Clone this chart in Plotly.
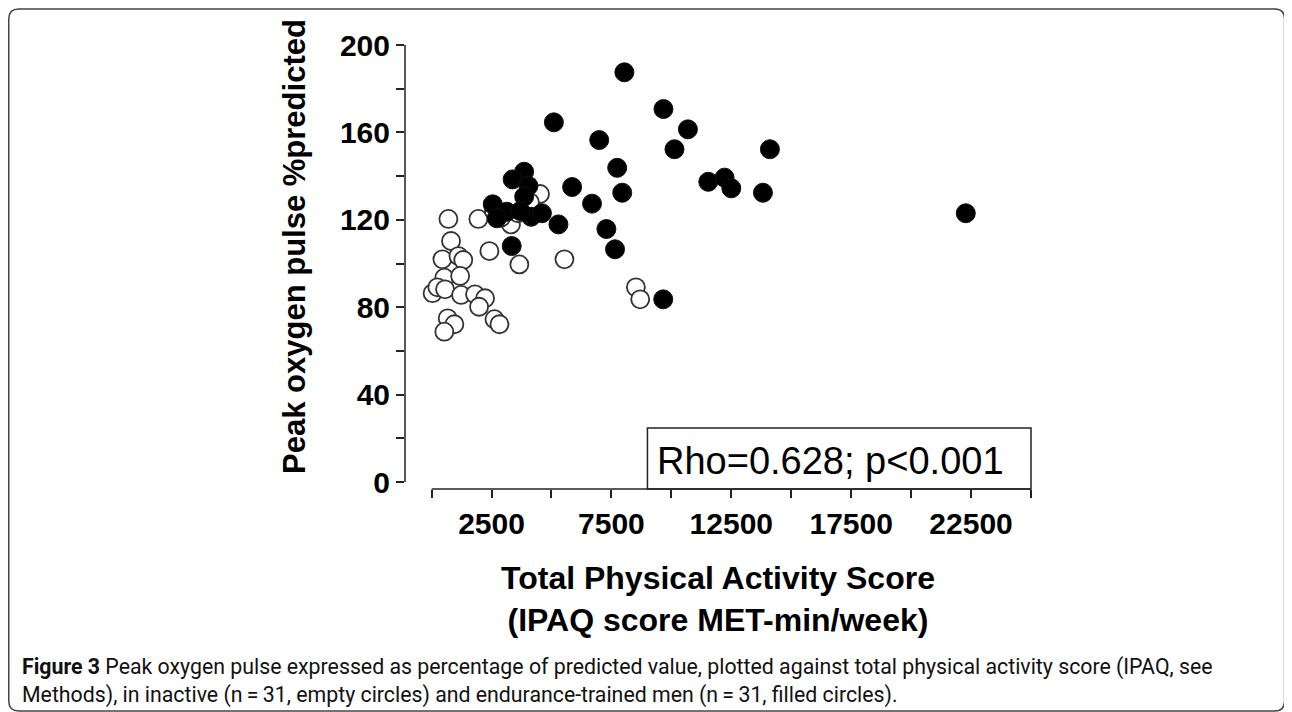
import plotly.graph_objects as go

# ---- data ----
inactive_x = [700, 1950, 4520, 3310, 810, 2410, 5540, 3660, 450, 1120, 1320, 530, 1190,
              40, 240, 560, 1230, 1810, 2230, 1980, 8520, 8700, 670, 950, 530, 2620, 2830,
              2900, 3600, 4100, 2600]
inactive_y = [120.4, 120.4, 131.8, 117.9, 110.3, 105.7, 101.9, 99.6, 101.9, 103.4, 101.6, 93.5, 94.3,
              86.4, 89.1, 88.2, 85.6, 85.9, 84.1, 80.2, 89.1, 83.6, 74.9, 72.2, 68.8, 74.5, 72.2,
              121.0, 123.0, 128.0, 124.0]
trained_x = [8040, 9670, 10690, 10130, 5100, 6990, 7740, 7950, 5860, 6690, 7290, 7650, 5290,
             9660, 11540, 3340, 3860, 3380, 4040, 3860, 2550, 3130, 2720, 4150, 4600, 3700,
             12220, 12500, 14110, 13820, 22280]
trained_y = [187.5, 170.7, 161.4, 152.3, 164.6, 156.5, 143.8, 132.4, 135.0, 127.4, 115.8, 106.5, 117.9,
             83.6, 137.4, 108.0, 142.0, 138.5, 135.5, 130.6, 127.1, 123.7, 120.7, 121.4, 123.0, 124.0,
             139.3, 134.4, 152.3, 132.4, 123.0]

x_tickvals = [0, 2500, 5000, 7500, 10000, 12500, 15000, 17500, 20000, 22500, 25000]
x_ticktext = ["", "2500", "", "7500", "", "12500", "", "17500", "", "22500", ""]
y_tickvals = [0, 20, 40, 60, 80, 100, 120, 140, 160, 180, 200]
y_ticktext = ["0", "", "40", "", "80", "", "120", "", "160", "", "200"]

stat_text = "Rho=0.628; p<0.001"
y_title = "Peak oxygen pulse %predicted"
x_title = "Total Physical Activity Score<br>(IPAQ score MET-min/week)"
caption = ("<b>Figure 3</b> Peak oxygen pulse expressed as percentage of predicted value, plotted against "
           "total physical activity score (IPAQ, see<br>Methods), in inactive (n\u2009=\u200931, empty circles) "
           "and endurance-trained men (n\u2009=\u200931, filled circles).")

# ---- layout geometry (screen pixels; page body has an 8px offset) ----
OFF = 8
W, H = 1292, 712
L_s, R_s, T_s, B_s = 405, 1030.6, 45, 489      # target screen positions
L, R, T, B = L_s - OFF, R_s - OFF, T_s - OFF, B_s - OFF


def px(xp):
    return (xp - L_s) / (R_s - L_s)


def py(yp):
    return (B_s - yp) / (B_s - T_s)


fig = go.Figure()
fig.add_trace(go.Scatter(
    x=inactive_x, y=inactive_y, mode="markers", name="inactive",
    marker=dict(size=18, color="white", symbol="circle",
                line=dict(color="#333333", width=1.8)),
    cliponaxis=False, showlegend=False))
fig.add_trace(go.Scatter(
    x=trained_x, y=trained_y, mode="markers", name="endurance-trained",
    marker=dict(size=19, color="black", symbol="circle",
                line=dict(color="#111111", width=1)),
    cliponaxis=False, showlegend=False))

tick_font = dict(family="Liberation Sans, Arial, sans-serif", size=30, color="black", weight="bold")

fig.update_xaxes(range=[-1110, 25000], tickmode="array", tickvals=x_tickvals, ticktext=x_ticktext,
                 ticks="outside", ticklen=8, tickwidth=1.5, tickcolor="#222222",
                 showline=False, showgrid=False, zeroline=False, tickfont=tick_font,
                 ticklabelstandoff=0)
fig.update_yaxes(range=[-3.2, 200], tickmode="array", tickvals=y_tickvals, ticktext=y_ticktext,
                 ticks="outside", ticklen=8, tickwidth=1.5, tickcolor="#222222",
                 showline=False, showgrid=False, zeroline=False, tickfont=tick_font,
                 ticklabelstandoff=0)

shapes = [
    # axis lines (detached style)
    dict(type="line", xref="x", yref="paper", x0=0, x1=25000, y0=0, y1=0,
         line=dict(color="#222222", width=1.5)),
    dict(type="line", xref="paper", yref="y", x0=0, x1=0, y0=0, y1=200,
         line=dict(color="#222222", width=1.5)),
    # statistic box
    dict(type="rect", xref="paper", yref="paper", x0=px(647.3), x1=1.0, y0=0, y1=py(428),
         line=dict(color="#222222", width=1.5), fillcolor="rgba(0,0,0,0)"),
]

# rounded outer border
x0b, y0b, x1b, y1b, r = 9, 9, 1284, 711, 10
path = (f"M {px(x0b + r)} {py(y0b)} L {px(x1b - r)} {py(y0b)} Q {px(x1b)} {py(y0b)} {px(x1b)} {py(y0b + r)} "
        f"L {px(x1b)} {py(y1b - r)} Q {px(x1b)} {py(y1b)} {px(x1b - r)} {py(y1b)} "
        f"L {px(x0b + r)} {py(y1b)} Q {px(x0b)} {py(y1b)} {px(x0b)} {py(y1b - r)} "
        f"L {px(x0b)} {py(y0b + r)} Q {px(x0b)} {py(y0b)} {px(x0b + r)} {py(y0b)} Z")
shapes.append(dict(type="path", xref="paper", yref="paper", path=path,
                   line=dict(color="#444444", width=1.5)))

annotations = [
    dict(text=stat_text, xref="paper", yref="paper", x=px(830), y=py(461),
         xanchor="center", yanchor="middle", showarrow=False,
         font=dict(family="Liberation Sans, Arial, sans-serif", size=38, color="black")),
    dict(text=y_title, xref="paper", yref="paper", x=px(294), y=py(246), textangle=-90,
         xanchor="center", yanchor="middle", showarrow=False,
         font=dict(family="Liberation Sans, Arial, sans-serif", size=31, color="black", weight="bold")),
    dict(text=x_title, xref="paper", yref="paper", x=px(718), y=py(598.5),
         xanchor="center", yanchor="middle", showarrow=False,
         font=dict(family="Liberation Sans, Arial, sans-serif", size=32, color="black", weight="bold")),
    dict(text=caption, xref="paper", yref="paper", x=px(20), y=py(680.5), align="left",
         xanchor="left", yanchor="middle", showarrow=False,
         font=dict(family="Roboto, Noto Sans, sans-serif", size=21.3, color="#111111")),
]

fig.update_layout(width=W, height=H, margin=dict(l=L, r=W - R, t=T, b=H - B, autoexpand=False),
                  paper_bgcolor="white", plot_bgcolor="white",
                  shapes=shapes, annotations=annotations, showlegend=False)

fig.write_html("out.html")
